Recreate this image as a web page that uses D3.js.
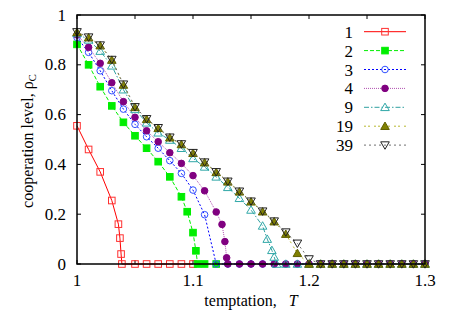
<!DOCTYPE html>
<html><head><meta charset="utf-8">
<script src="https://cdn.jsdelivr.net/npm/d3@7"></script>
<style>body{margin:0;background:#fff}svg{display:block}text{font-family:"Liberation Serif","DejaVu Serif",serif}</style>
</head><body><svg id="c" width="463" height="315"></svg>
<script>
const seriesNames = ["1","2","3","4","9","19","39"];
const zerosFrom = (a, b) => { const r = []; for (let i = Math.round(a*100); i <= Math.round(b*100); i++) r.push(i/100); return r; };
const T1 = [1.00,1.01,1.02,1.03,1.0357,1.037,1.038,1.0387,1.05,1.06,1.07,1.08,1.09,1.10];
const V1 = [0.555,0.46,0.37,0.255,0.16,0.104,0.04,0,0,0,0,0,0,0];
const T2 = [1.00,1.01,1.02,1.03,1.04,1.05,1.06,1.07,1.08,1.09,1.095,1.10,1.1025,1.104,1.11,1.12];
const V2 = [0.882,0.80,0.712,0.635,0.569,0.515,0.465,0.411,0.35,0.27,0.21,0.126,0.053,0,0,0];
const T3 = [1.00,1.01,1.02,1.03,1.04,1.05,1.06,1.07,1.08,1.09,1.10,1.11].concat(zerosFrom(1.12,1.30));
const V3 = [0.91,0.85,0.776,0.696,0.622,0.561,0.511,0.465,0.415,0.364,0.297,0.198].concat(zerosFrom(1.12,1.30).map(()=>0));
const T4 = [1.00,1.01,1.02,1.03,1.04,1.05,1.06,1.07,1.08,1.09,1.10,1.11,1.12,1.125,1.1275,1.129].concat(zerosFrom(1.13,1.30));
const V4 = [0.92,0.87,0.806,0.728,0.652,0.589,0.535,0.491,0.447,0.404,0.355,0.294,0.209,0.159,0.09,0.025].concat(zerosFrom(1.13,1.30).map(()=>0));
const T9 = [1.00,1.01,1.02,1.03,1.04,1.05,1.06,1.07,1.08,1.09,1.10,1.11,1.12,1.13,1.14,1.15,1.16,1.164,1.168,1.17,1.172].concat(zerosFrom(1.18,1.30));
const V9 = [0.926,0.90,0.855,0.796,0.70,0.621,0.567,0.527,0.498,0.465,0.424,0.39,0.35,0.308,0.264,0.217,0.153,0.10,0.055,0.028,0].concat(zerosFrom(1.18,1.30).map(()=>0));
const T19 = [1.00,1.01,1.02,1.03,1.04,1.05,1.06,1.07,1.08,1.09,1.10,1.11,1.12,1.13,1.14,1.15,1.16,1.17,1.18,1.19].concat(zerosFrom(1.20,1.30));
const V19 = [0.93,0.909,0.877,0.819,0.719,0.629,0.581,0.545,0.507,0.48,0.445,0.407,0.368,0.33,0.29,0.25,0.21,0.17,0.12,0.043].concat(zerosFrom(1.20,1.30).map(()=>0));
const T39 = [1.00,1.01,1.02,1.03,1.04,1.05,1.06,1.07,1.08,1.09,1.10,1.11,1.12,1.13,1.14,1.15,1.16,1.17,1.18,1.19,1.20].concat(zerosFrom(1.21,1.30));
const V39 = [0.932,0.911,0.879,0.821,0.722,0.631,0.583,0.547,0.509,0.482,0.447,0.409,0.37,0.332,0.292,0.252,0.212,0.172,0.128,0.083,0.02].concat(zerosFrom(1.21,1.30).map(()=>0));
const xTicks = [1, 1.1, 1.2, 1.3];
const xMinor = [1.05, 1.15, 1.25];
const yTicks = [0, 0.2, 0.4, 0.6, 0.8, 1];

const styles = [
  {c:"#ff0000", dash:null, m:"sq", fill:"none", mc:"#ff3030"},
  {c:"#00ee00", dash:"4,2", m:"sq", fill:"#00ee00", mc:"#00ee00"},
  {c:"#0000ff", dash:"2,2", m:"ci", fill:"none", mc:"#3050ff"},
  {c:"#b050b0", dash:"1,1", m:"ci", fill:"#800080", mc:"#800080"},
  {c:"#30a0a0", dash:"5,2,1.5,2", m:"tu", fill:"none", mc:"#30a8a8"},
  {c:"#b8b830", dash:"2,2,2,4", m:"tu", fill:"#808000", mc:"#606000"},
  {c:"#707070", dash:"2,3", m:"td", fill:"none", mc:"#202020"}
];
const data = [[T1,V1],[T2,V2],[T3,V3],[T4,V4],[T9,V9],[T19,V19],[T39,V39]];

const svg = d3.select("#c");
const L=77, R=425, Tp=15, B=264;
const x = d3.scaleLinear().domain([1,1.3]).range([L,R]);
const y = d3.scaleLinear().domain([0,1]).range([B,Tp]);

const g = svg.append("g");
const ax = g.append("g").attr("stroke","#000").attr("stroke-width",1);
xTicks.concat(xMinor).forEach(t=>{
  ax.append("line").attr("x1",x(t)).attr("x2",x(t)).attr("y1",B).attr("y2",B-4);
  ax.append("line").attr("x1",x(t)).attr("x2",x(t)).attr("y1",Tp).attr("y2",Tp+4);
});
yTicks.forEach(t=>{
  ax.append("line").attr("x1",L).attr("x2",L+4).attr("y1",y(t)).attr("y2",y(t));
  ax.append("line").attr("x1",R).attr("x2",R-4).attr("y1",y(t)).attr("y2",y(t));
});
xTicks.forEach(t=>{
  g.append("text").attr("x",x(t)).attr("y",286).attr("text-anchor","middle").attr("font-size",17).text(d3.format("")(t));
});
yTicks.forEach(t=>{
  g.append("text").attr("x",66).attr("y",y(t)+5.5).attr("text-anchor","end").attr("font-size",17).text(t);
});
const xt = g.append("text").attr("x",251).attr("y",306).attr("text-anchor","middle").attr("font-size",16);
xt.append("tspan").text("temptation,\u00a0\u00a0\u00a0");
xt.append("tspan").attr("font-style","italic").text("T");
const yt = g.append("text").attr("transform","translate(33,141) rotate(-90)").attr("text-anchor","middle").attr("font-size",16);
yt.append("tspan").text("cooperation level, ρ");
yt.append("tspan").attr("font-size",11).attr("dy",3).text("C");

function marker(sel, m, cx, cy){
  if (m==="sq") sel.append("rect").attr("x",cx-3.3).attr("y",cy-3.3).attr("width",6.6).attr("height",6.6);
  else if (m==="ci") sel.append("circle").attr("cx",cx).attr("cy",cy).attr("r",3.3);
  else {
    const p = d3.symbol().type(d3.symbolTriangle).size(32)();
    sel.append("path").attr("d",p).attr("transform",`translate(${cx},${cy+(m==="td"?-0.8:0.8)})${m==="td"?" rotate(180)":""}`);
  }
}
const line = d3.line().x(d=>x(d[0])).y(d=>y(d[1]));
data.forEach((s,i)=>{
  const st = styles[i];
  const pts = s[0].map((t,k)=>[t,s[1][k]]);
  g.append("path").attr("d",line(pts)).attr("fill","none").attr("stroke",st.c).attr("stroke-width",1).attr("stroke-dasharray",st.dash);
  const mg = g.append("g").attr("fill",st.fill).attr("stroke",st.mc).attr("stroke-width",1);
  pts.forEach(p=>marker(mg, st.m, x(p[0]), y(p[1])));
});
g.append("rect").attr("x",L).attr("y",Tp).attr("width",R-L).attr("height",B-Tp).attr("fill","none").attr("stroke","#000").attr("stroke-width",1.5);
seriesNames.forEach((n,i)=>{
  const st = styles[i], ly = 31.7 + i*18.9;
  g.append("text").attr("x",353).attr("y",ly+6).attr("text-anchor","end").attr("font-size",17).text(n);
  g.append("line").attr("x1",364).attr("x2",406).attr("y1",ly).attr("y2",ly).attr("stroke",st.c).attr("stroke-width",1).attr("stroke-dasharray",st.dash);
  const mg = g.append("g").attr("fill",st.fill).attr("stroke",st.mc).attr("stroke-width",1);
  marker(mg, st.m, 385, ly);
});
</script></body></html>
